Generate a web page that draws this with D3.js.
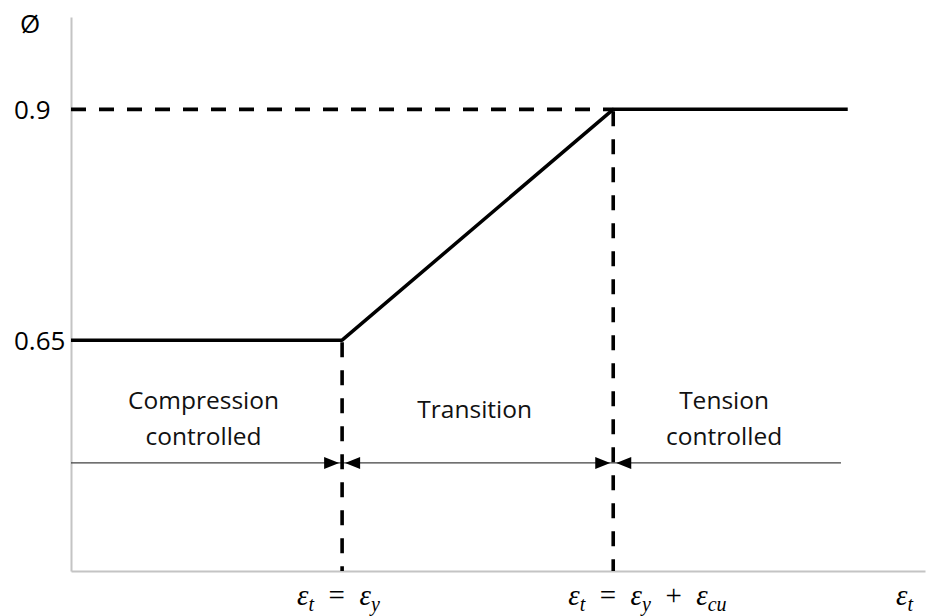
<!DOCTYPE html>
<html><head><meta charset="utf-8">
<script src="https://cdn.jsdelivr.net/npm/d3@7"></script>
<style>body{margin:0;background:#fff}</style>
</head><body><svg id="chart" width="928" height="616"></svg>
<script>
// ---- data ----
const curveStrain = [0, 1, 2, 2.865];          // relative strain units (εy = 1, εy+εcu = 2)
const curvePhi    = [0.65, 0.65, 0.9, 0.9];
const strainBreaks = [1, 2];
const yTickValues = [0.9, 0.65];
const yTickLabels = ["0.9", "0.65"];
const zoneNames = [["Compression", "controlled"], ["Transition"], ["Tension", "controlled"]];
const zoneStart = [0, 1, 2];
const zoneEnd   = [1, 2, 2.84];
const zoneArrowPhi = 0.517;
const xLabelParts = [
  [["ε",0],["t",1],["\u2002=\u2002",0],["ε",0],["y",1]],
  [["ε",0],["t",1],["\u2002=\u2002",0],["ε",0],["y",1],["\u2002+\u2002",0],["ε",0],["cu",1]]
];
const xAxisTitle = [["ε",0],["t",1]];
const yAxisTitle = "Ø";

// ---- layout ----
const svg = d3.select("#chart");
const x = d3.scaleLinear().domain([0, 3.15]).range([71, 925]);
const y = d3.scaleLinear().domain([0.4, 1.0]).range([571, 17]);
const textFont = "'Open Sans', sans-serif";
const mathFont = "'Liberation Serif', serif";

// axes (domain lines only)
svg.append("g").attr("transform", `translate(${x(0)},0)`)
  .call(d3.axisLeft(y).tickValues([]).tickSizeOuter(0));
svg.append("g").attr("transform", `translate(0,${y(0.4)})`)
  .call(d3.axisBottom(x).tickValues([]).tickSizeOuter(0));
svg.selectAll(".domain").attr("stroke", "#c4c4c4").attr("stroke-width", 2);

// y tick labels (left aligned)
svg.selectAll(".ytl").data(yTickValues).enter().append("text")
  .attr("x", 14).attr("y", d => y(d)).attr("dy", "0.36em")
  .attr("font-family", textFont).attr("font-size", 26).attr("fill", "#000")
  .text((d, i) => yTickLabels[i]);

// y axis title
svg.append("text").attr("x", 20).attr("y", 33)
  .attr("font-family", textFont).attr("font-size", 26).text(yAxisTitle);

// zone arrow line
const ay = y(zoneArrowPhi);
svg.append("line").attr("x1", x(zoneStart[0])).attr("x2", x(zoneEnd[2]))
  .attr("y1", ay).attr("y2", ay).attr("stroke", "#404040").attr("stroke-width", 1.2);

// arrowheads at each break
strainBreaks.forEach(b => {
  const bx = x(b);
  svg.append("path").attr("d", `M${bx-3},${ay} L${bx-18},${ay-6} L${bx-18},${ay+6} Z`).attr("fill", "#000");
  svg.append("path").attr("d", `M${bx+3},${ay} L${bx+18},${ay-6} L${bx+18},${ay+6} Z`).attr("fill", "#000");
});

// dashed horizontal at 0.9
svg.append("line").attr("x1", x(0)).attr("x2", x(strainBreaks[1]))
  .attr("y1", y(curvePhi[3])).attr("y2", y(curvePhi[3]))
  .attr("stroke", "#000").attr("stroke-width", 3.6).attr("stroke-dasharray", "15,13");

// dashed verticals
strainBreaks.forEach((b, i) => {
  svg.append("line").attr("x1", x(b)).attr("x2", x(b))
    .attr("y1", y(curvePhi[i + 1]) + 2).attr("y2", y(0.4))
    .attr("stroke", "#000").attr("stroke-width", 3.6).attr("stroke-dasharray", "15,13");
});

// main curve
const line = d3.line().x(d => x(d[0])).y(d => y(d[1]));
svg.append("path").datum(curveStrain.map((s, i) => [s, curvePhi[i]]))
  .attr("d", line).attr("fill", "none").attr("stroke", "#000")
  .attr("stroke-width", 3.5).attr("stroke-linejoin", "round");

// zone labels
zoneNames.forEach((lines, i) => {
  const cx = x((zoneStart[i] + zoneEnd[i]) / 2) - 3;
  const t = svg.append("text").attr("text-anchor", "middle")
    .attr("font-family", textFont).attr("font-size", 24.5).attr("fill", "#111");
  if (lines.length === 1) {
    t.append("tspan").attr("x", cx).attr("y", ay - 45).text(lines[0]);
  } else {
    lines.forEach((l, j) => t.append("tspan").attr("x", cx).attr("y", ay - 54 + j * 36).text(l));
  }
});

// math labels
function mathLabel(parts, x0, y0) {
  const t = svg.append("text").attr("x", x0).attr("y", y0)
    .attr("font-family", mathFont).attr("font-size", 29).attr("fill", "#000")
    .style("white-space", "pre");
  let sub = false;
  parts.forEach(([s, isSub]) => {
    const ts = t.append("tspan").text(s);
    if (s.trim() === "=" || s.trim() === "+") ts.attr("font-style", "normal");
    else ts.attr("font-style", "italic");
    if (isSub) { ts.attr("font-size", 20); if (!sub) ts.attr("dy", 6); sub = true; }
    else if (sub) { ts.attr("dy", -6); sub = false; }
  });
  return t;
}
strainBreaks.forEach((b, i) => mathLabel(xLabelParts[i], x(b) - 45, 605));
mathLabel(xAxisTitle, 896, 605);
</script></body></html>
